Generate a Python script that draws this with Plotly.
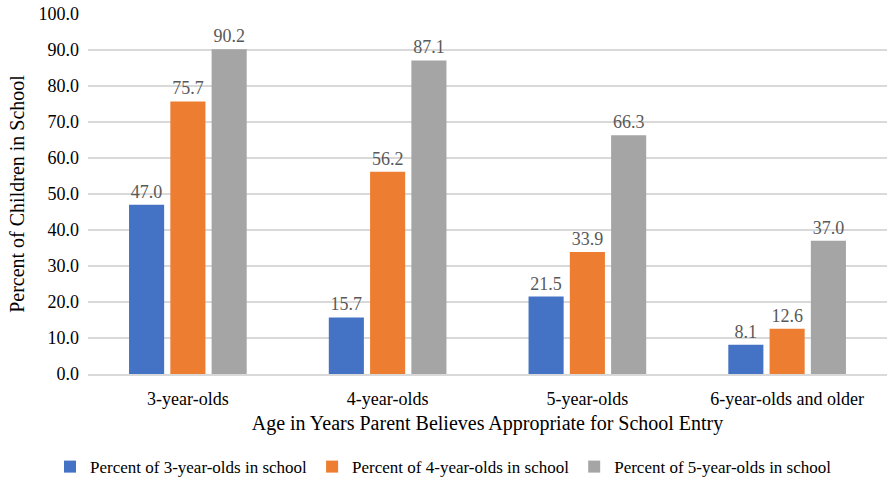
import plotly.graph_objects as go

categories = ["3-year-olds", "4-year-olds", "5-year-olds", "6-year-olds and older"]
series_names = [
    "Percent of 3-year-olds in school",
    "Percent of 4-year-olds in school",
    "Percent of 5-year-olds in school",
]
pct_3yo = [47.0, 15.7, 21.5, 8.1]
pct_4yo = [75.7, 56.2, 33.9, 12.6]
pct_5yo = [90.2, 87.1, 66.3, 37.0]
colors = ["#4472C4", "#ED7D31", "#A5A5A5"]
y_ticks = [0, 10, 20, 30, 40, 50, 60, 70, 80, 90, 100]

FONT = "Times New Roman, Liberation Serif, serif"

fig = go.Figure()
for name, vals, col in zip(series_names, [pct_3yo, pct_4yo, pct_5yo], colors):
    fig.add_trace(go.Bar(
        x=categories, y=vals, name=name,
        marker=dict(color=col, line=dict(width=0)),
        text=[f"{v:.1f}" for v in vals],
        textposition="outside",
        textfont=dict(family=FONT, size=18, color="#595959"),
        cliponaxis=False,
    ))

fig.update_layout(
    width=887, height=481,
    margin=dict(l=88, r=0, t=14, b=107),
    paper_bgcolor="white", plot_bgcolor="white",
    barmode="group", bargap=0.38, bargroupgap=0.15,
    font=dict(family=FONT, color="#000000"),
    showlegend=True,
    legend=dict(
        orientation="h", x=0.5, xanchor="center", xref="container",
        y=0.029, yanchor="middle", yref="container",
        font=dict(family=FONT, size=17, color="#000000"),
        itemwidth=30, traceorder="normal",
    ),
    xaxis=dict(
        title=dict(text="Age in Years Parent Believes Appropriate for School Entry",
                   font=dict(family=FONT, size=20), standoff=8),
        tickfont=dict(family=FONT, size=18),
        showline=True, linecolor="#d9d9d9", linewidth=1.5,
        ticks="", showgrid=False, automargin=False, ticklabelstandoff=8,
    ),
    yaxis=dict(
        title=dict(text="Percent of Children in School",
                   font=dict(family=FONT, size=20), standoff=8),
        range=[0, 100], tickvals=y_ticks,
        ticktext=[f"{v:.1f}" for v in y_ticks],
        tickfont=dict(family=FONT, size=18),
        showgrid=True, gridcolor="#d9d9d9", gridwidth=1.5,
        zeroline=False, ticks="", ticklabelstandoff=8, automargin=False,
    ),
)

fig.write_html("out.html")
